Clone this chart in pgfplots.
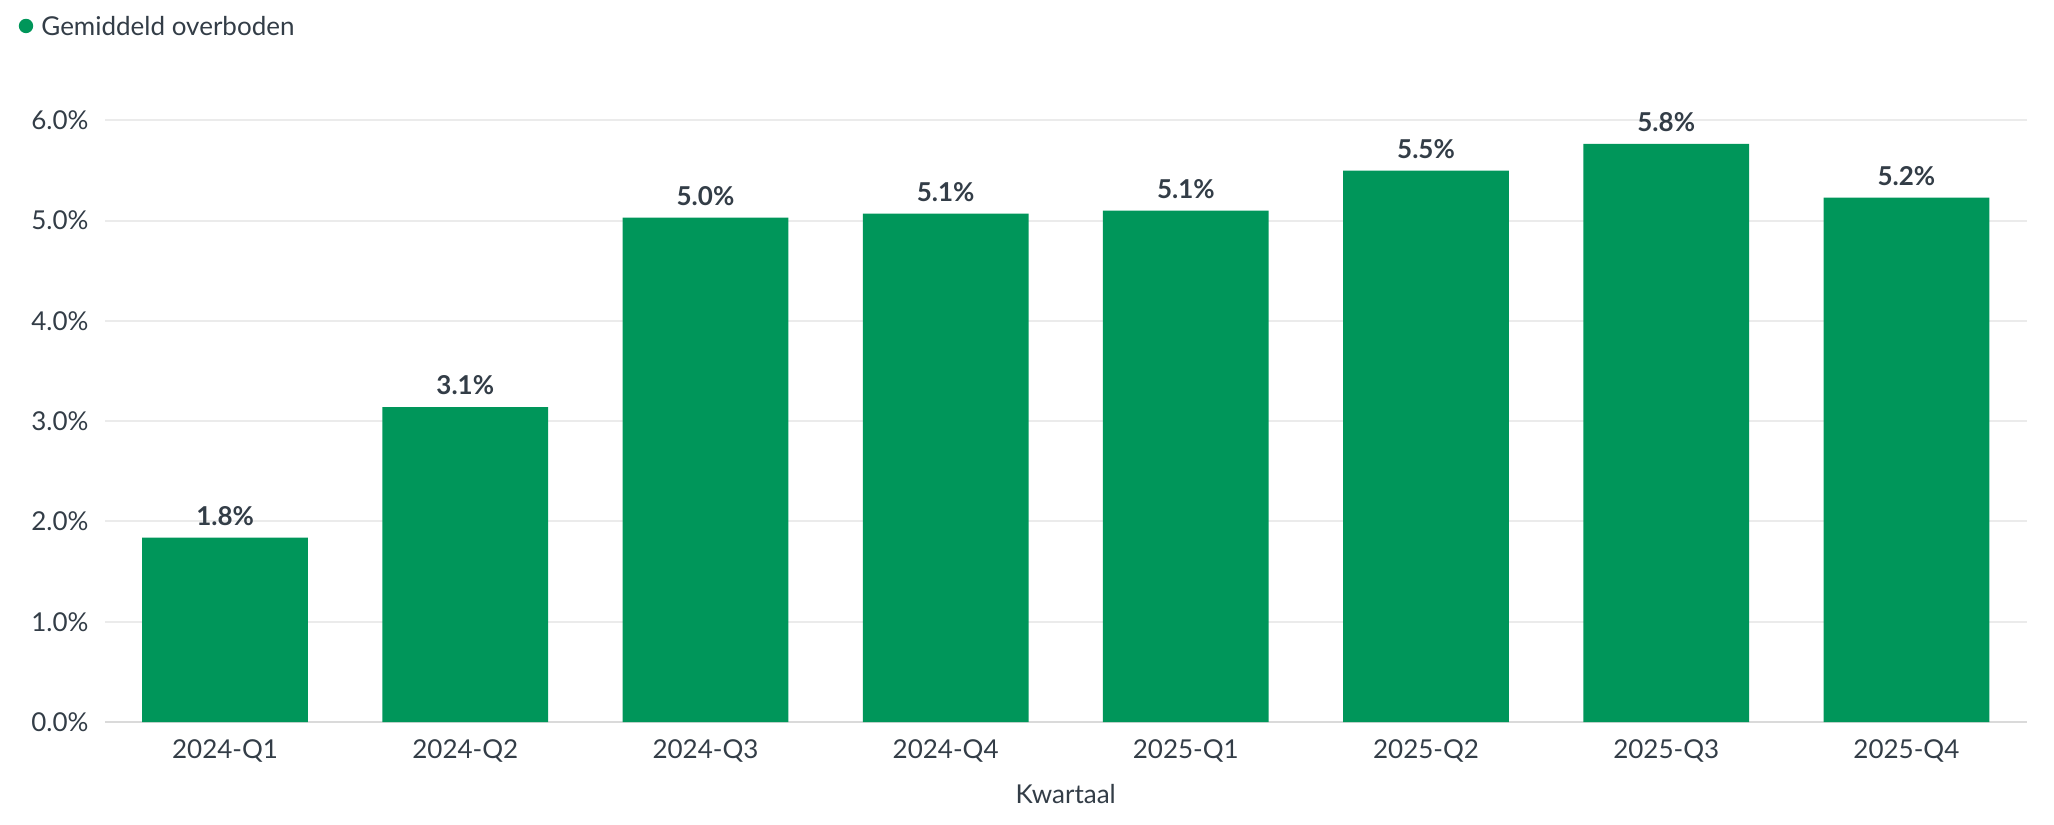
\documentclass[border=0pt]{standalone}
\usepackage{fontspec}
\setmainfont{Lato}
\usepackage{pgfplots}
\pgfplotsset{compat=1.18}
\definecolor{bargreen}{HTML}{00965A}
\definecolor{txt}{HTML}{333D47}
\definecolor{gridc}{HTML}{EBEBEB}
\definecolor{zeroc}{HTML}{DADADA}
\begin{document}
\begin{tikzpicture}
\useasboundingbox (0,0) rectangle (1027pt,412pt);
\fill[bargreen] (13pt,399pt) circle (3.6pt);
\node[anchor=west, inner sep=0pt, text=txt, font=\fontsize{13}{15}\selectfont] at (20.5pt,399pt) {Gemiddeld overboden};
\begin{axis}[
  at={(52.5pt,51pt)}, anchor=south west,
  scale only axis, width=960.75pt, height=300.8pt,
  xmin=-0.5, xmax=7.5, ymin=0, ymax=6,
  clip=false,
  axis line style={draw=none},
  tick style={draw=none},
  /pgf/number format/assume math mode=true,
  xtick={0,1,2,3,4,5,6,7},
  xticklabels={2024-Q1,2024-Q2,2024-Q3,2024-Q4,2025-Q1,2025-Q2,2025-Q3,2025-Q4},
  ytick={1,2,3,4,5,6},
  extra y ticks={0},
  extra y tick style={grid style={zeroc, line width=1.2pt}},
  ymajorgrids, grid style={gridc, line width=1pt},
  yticklabel={\pgfmathprintnumber[fixed,fixed zerofill,precision=1]{\tick}\%},
  ticklabel style={text=txt, font=\fontsize{13}{15}\selectfont},
  yticklabel style={xshift=-4.75pt},
  xticklabel style={yshift=-1pt},
  xlabel={Kwartaal},
  xlabel style={text=txt, font=\fontsize{13}{15}\selectfont, yshift=-4pt},
  ybar, bar width=0.69,
  nodes near coords={\pgfmathprintnumber[fixed,fixed zerofill,precision=1]{\pgfplotspointmeta}\%},
  nodes near coords style={text=txt, font=\fontsize{13}{15}\selectfont\bfseries, anchor=south, yshift=2.6pt},
]
\addplot[fill=bargreen, draw=none] coordinates {
  (0,1.84) (1,3.14) (2,5.03) (3,5.07) (4,5.10) (5,5.50) (6,5.765) (7,5.23)
};
\end{axis}
\end{tikzpicture}
\end{document}
